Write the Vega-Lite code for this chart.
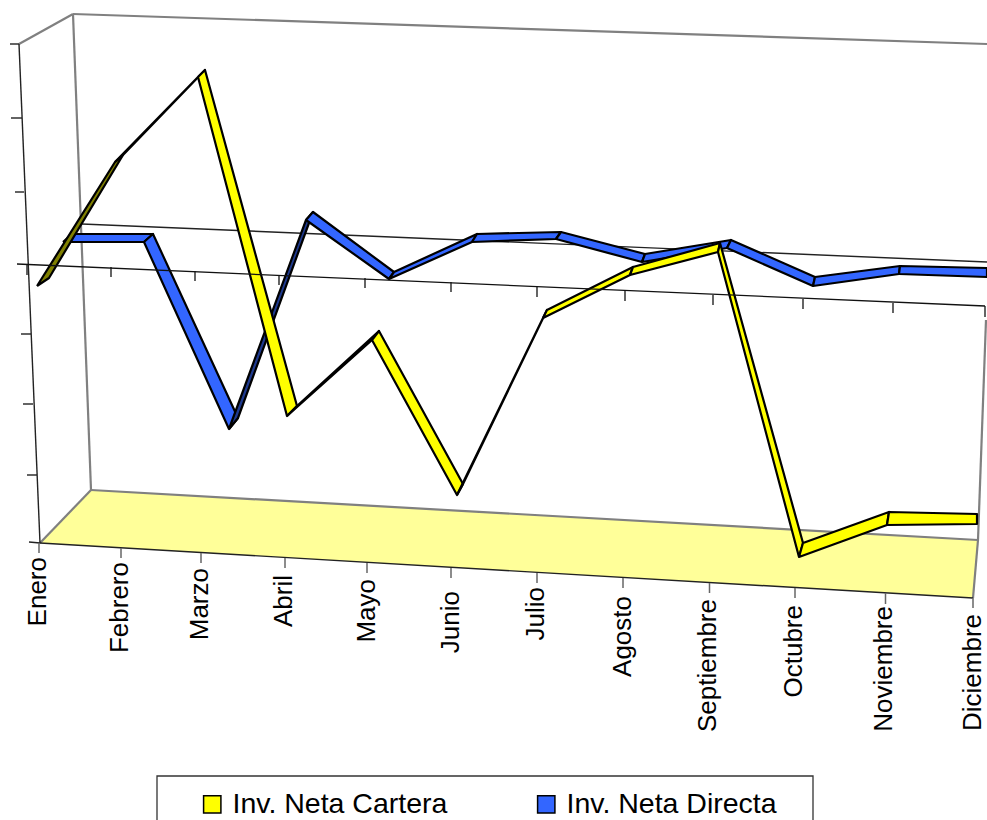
{"$schema":"https://vega.github.io/schema/vega-lite/v6.json","width":987,"height":820,"padding":0,"autosize":{"type":"none"},"background":"white","config":{"view":{"stroke":null},"font":"Liberation Sans"},
"datasets":{
"suelo":[{"x":40,"y":543},{"x":91,"y":490},{"x":978,"y":540},{"x":973,"y":598},{"x":40,"y":543}],
"bordes":[{"x":19,"y":44,"x2":73,"y2":14},{"x":73,"y":14,"x2":987,"y2":44},{"x":73,"y":14,"x2":91,"y2":490},{"x":91,"y":490,"x2":978,"y2":540},{"x":40,"y":543,"x2":91,"y2":490},{"x":986,"y":320,"x2":978,"y2":540},{"x":978,"y":540,"x2":973,"y2":598}],
"ejes":[{"x":19,"y":44,"x2":40,"y2":543},{"x":82,"y":224,"x2":987,"y2":262},{"x":40,"y":543,"x2":973,"y2":598},{"x":10,"y":44,"x2":19,"y2":44},{"x":11,"y":118,"x2":22,"y2":118},{"x":15,"y":192,"x2":24,"y2":192},{"x":21,"y":334,"x2":31,"y2":334},{"x":23,"y":404,"x2":33,"y2":404},{"x":27,"y":475,"x2":37,"y2":475},{"x":29,"y":542,"x2":40,"y2":543}],
"marcas":[{"x":39,"y":543,"x2":39,"y2":553},{"x":121,"y":548,"x2":121,"y2":558},{"x":201,"y":553,"x2":201,"y2":563},{"x":285,"y":558,"x2":285,"y2":568},{"x":367,"y":563,"x2":367,"y2":573},{"x":451,"y":568,"x2":451,"y2":578},{"x":537,"y":573,"x2":537,"y2":583},{"x":623,"y":578,"x2":623,"y2":588},{"x":709.5,"y":583,"x2":709.5,"y2":593},{"x":795,"y":588,"x2":795,"y2":598},{"x":885.5,"y":593,"x2":885.5,"y2":604},{"x":973,"y":598,"x2":973,"y2":608}],
"cero":[{"x":17,"y":264,"x2":985,"y2":306},{"x":27,"y":265,"x2":27,"y2":275},{"x":111,"y":267,"x2":111,"y2":277},{"x":195,"y":271,"x2":195,"y2":281},{"x":279,"y":275,"x2":279,"y2":285},{"x":365,"y":278,"x2":365,"y2":288},{"x":451,"y":282,"x2":451,"y2":292},{"x":537,"y":287,"x2":537,"y2":297},{"x":625,"y":291,"x2":625,"y2":301},{"x":713,"y":295,"x2":713,"y2":305},{"x":803,"y":299,"x2":803,"y2":309},{"x":893,"y":303,"x2":893,"y2":313},{"x":985,"y":306,"x2":985,"y2":317}],
"meses":[{"mes":"Enero","x":38,"y":557},{"mes":"Febrero","x":120,"y":562},{"mes":"Marzo","x":200,"y":568},{"mes":"Abril","x":284,"y":575},{"mes":"Mayo","x":367,"y":579},{"mes":"Junio","x":451,"y":591},{"mes":"Julio","x":536,"y":587},{"mes":"Agosto","x":623,"y":596},{"mes":"Septiembre","x":708,"y":599},{"mes":"Octubre","x":794,"y":605},{"mes":"Noviembre","x":884,"y":606},{"mes":"Diciembre","x":973,"y":614}],
"marco":[{"x":157,"x2":813,"y":776,"y2":840}],
"cintas":[
{"s":"Inv. Neta Directa","t":"D1","o":1,"x":63,"y":242},{"s":"Inv. Neta Directa","t":"D1","o":2,"x":72,"y":234},{"s":"Inv. Neta Directa","t":"D1","o":3,"x":153,"y":234},{"s":"Inv. Neta Directa","t":"D1","o":4,"x":144,"y":242},{"s":"Inv. Neta Directa","t":"D1","o":5,"x":63,"y":242},
{"s":"Inv. Neta Directa","t":"D2","o":1,"x":144,"y":242},{"s":"Inv. Neta Directa","t":"D2","o":2,"x":153,"y":234},{"s":"Inv. Neta Directa","t":"D2","o":3,"x":238,"y":418},{"s":"Inv. Neta Directa","t":"D2","o":4,"x":229,"y":429},{"s":"Inv. Neta Directa","t":"D2","o":5,"x":144,"y":242},
{"s":"Directa inferior","t":"D3","o":1,"x":229,"y":429},{"s":"Directa inferior","t":"D3","o":2,"x":238,"y":418},{"s":"Directa inferior","t":"D3","o":3,"x":313,"y":212},{"s":"Directa inferior","t":"D3","o":4,"x":306,"y":220},{"s":"Directa inferior","t":"D3","o":5,"x":229,"y":429},
{"s":"Inv. Neta Directa","t":"D4","o":1,"x":306,"y":220},{"s":"Inv. Neta Directa","t":"D4","o":2,"x":313,"y":212},{"s":"Inv. Neta Directa","t":"D4","o":3,"x":394,"y":272},{"s":"Inv. Neta Directa","t":"D4","o":4,"x":389,"y":279},{"s":"Inv. Neta Directa","t":"D4","o":5,"x":306,"y":220},
{"s":"Inv. Neta Directa","t":"D5","o":1,"x":389,"y":279},{"s":"Inv. Neta Directa","t":"D5","o":2,"x":394,"y":272},{"s":"Inv. Neta Directa","t":"D5","o":3,"x":477,"y":234},{"s":"Inv. Neta Directa","t":"D5","o":4,"x":472,"y":242},{"s":"Inv. Neta Directa","t":"D5","o":5,"x":389,"y":279},
{"s":"Inv. Neta Directa","t":"D6","o":1,"x":472,"y":242},{"s":"Inv. Neta Directa","t":"D6","o":2,"x":477,"y":234},{"s":"Inv. Neta Directa","t":"D6","o":3,"x":561,"y":232},{"s":"Inv. Neta Directa","t":"D6","o":4,"x":556,"y":239},{"s":"Inv. Neta Directa","t":"D6","o":5,"x":472,"y":242},
{"s":"Inv. Neta Directa","t":"D7","o":1,"x":556,"y":239},{"s":"Inv. Neta Directa","t":"D7","o":2,"x":561,"y":232},{"s":"Inv. Neta Directa","t":"D7","o":3,"x":645,"y":254},{"s":"Inv. Neta Directa","t":"D7","o":4,"x":642,"y":262},{"s":"Inv. Neta Directa","t":"D7","o":5,"x":556,"y":239},
{"s":"Inv. Neta Directa","t":"D8","o":1,"x":642,"y":262},{"s":"Inv. Neta Directa","t":"D8","o":2,"x":645,"y":254},{"s":"Inv. Neta Directa","t":"D8","o":3,"x":731,"y":240},{"s":"Inv. Neta Directa","t":"D8","o":4,"x":727,"y":248},{"s":"Inv. Neta Directa","t":"D8","o":5,"x":642,"y":262},
{"s":"Inv. Neta Directa","t":"D9","o":1,"x":727,"y":248},{"s":"Inv. Neta Directa","t":"D9","o":2,"x":731,"y":240},{"s":"Inv. Neta Directa","t":"D9","o":3,"x":815,"y":277},{"s":"Inv. Neta Directa","t":"D9","o":4,"x":813,"y":286},{"s":"Inv. Neta Directa","t":"D9","o":5,"x":727,"y":248},
{"s":"Inv. Neta Directa","t":"D10","o":1,"x":813,"y":286},{"s":"Inv. Neta Directa","t":"D10","o":2,"x":815,"y":277},{"s":"Inv. Neta Directa","t":"D10","o":3,"x":900,"y":266},{"s":"Inv. Neta Directa","t":"D10","o":4,"x":899,"y":274},{"s":"Inv. Neta Directa","t":"D10","o":5,"x":813,"y":286},
{"s":"Inv. Neta Directa","t":"D11","o":1,"x":899,"y":274},{"s":"Inv. Neta Directa","t":"D11","o":2,"x":900,"y":266},{"s":"Inv. Neta Directa","t":"D11","o":3,"x":987,"y":268},{"s":"Inv. Neta Directa","t":"D11","o":4,"x":987,"y":277},{"s":"Inv. Neta Directa","t":"D11","o":5,"x":899,"y":274},
{"s":"Cartera inferior","t":"C1","o":1,"x":37,"y":286},{"s":"Cartera inferior","t":"C1","o":2,"x":49,"y":278},{"s":"Cartera inferior","t":"C1","o":3,"x":123,"y":155},{"s":"Cartera inferior","t":"C1","o":4,"x":115,"y":162},{"s":"Cartera inferior","t":"C1","o":5,"x":37,"y":286},
{"s":"Cartera inferior","t":"C2","o":1,"x":115,"y":162},{"s":"Cartera inferior","t":"C2","o":2,"x":123,"y":155},{"s":"Cartera inferior","t":"C2","o":3,"x":205,"y":70},{"s":"Cartera inferior","t":"C2","o":4,"x":198,"y":77},{"s":"Cartera inferior","t":"C2","o":5,"x":115,"y":162},
{"s":"Inv. Neta Cartera","t":"C3","o":1,"x":198,"y":77},{"s":"Inv. Neta Cartera","t":"C3","o":2,"x":205,"y":70},{"s":"Inv. Neta Cartera","t":"C3","o":3,"x":297,"y":406},{"s":"Inv. Neta Cartera","t":"C3","o":4,"x":287,"y":416},{"s":"Inv. Neta Cartera","t":"C3","o":5,"x":198,"y":77},
{"s":"Cartera inferior","t":"C4","o":1,"x":287,"y":416},{"s":"Cartera inferior","t":"C4","o":2,"x":297,"y":406},{"s":"Cartera inferior","t":"C4","o":3,"x":379,"y":331},{"s":"Cartera inferior","t":"C4","o":4,"x":372,"y":340},{"s":"Cartera inferior","t":"C4","o":5,"x":287,"y":416},
{"s":"Inv. Neta Cartera","t":"C5","o":1,"x":372,"y":340},{"s":"Inv. Neta Cartera","t":"C5","o":2,"x":379,"y":331},{"s":"Inv. Neta Cartera","t":"C5","o":3,"x":463,"y":484},{"s":"Inv. Neta Cartera","t":"C5","o":4,"x":457,"y":495},{"s":"Inv. Neta Cartera","t":"C5","o":5,"x":372,"y":340},
{"s":"Cartera inferior","t":"C6","o":1,"x":457,"y":495},{"s":"Cartera inferior","t":"C6","o":2,"x":463,"y":484},{"s":"Cartera inferior","t":"C6","o":3,"x":547,"y":310},{"s":"Cartera inferior","t":"C6","o":4,"x":543,"y":318},{"s":"Cartera inferior","t":"C6","o":5,"x":457,"y":495},
{"s":"Inv. Neta Cartera","t":"C7","o":1,"x":543,"y":318},{"s":"Inv. Neta Cartera","t":"C7","o":2,"x":547,"y":310},{"s":"Inv. Neta Cartera","t":"C7","o":3,"x":633,"y":267},{"s":"Inv. Neta Cartera","t":"C7","o":4,"x":630,"y":275},{"s":"Inv. Neta Cartera","t":"C7","o":5,"x":543,"y":318},
{"s":"Inv. Neta Cartera","t":"C8","o":1,"x":630,"y":275},{"s":"Inv. Neta Cartera","t":"C8","o":2,"x":633,"y":267},{"s":"Inv. Neta Cartera","t":"C8","o":3,"x":720,"y":243},{"s":"Inv. Neta Cartera","t":"C8","o":4,"x":718,"y":252},{"s":"Inv. Neta Cartera","t":"C8","o":5,"x":630,"y":275},
{"s":"Inv. Neta Cartera","t":"C9","o":1,"x":718,"y":252},{"s":"Inv. Neta Cartera","t":"C9","o":2,"x":720,"y":243},{"s":"Inv. Neta Cartera","t":"C9","o":3,"x":803,"y":543},{"s":"Inv. Neta Cartera","t":"C9","o":4,"x":799,"y":557},{"s":"Inv. Neta Cartera","t":"C9","o":5,"x":718,"y":252},
{"s":"Inv. Neta Cartera","t":"C10","o":1,"x":799,"y":557},{"s":"Inv. Neta Cartera","t":"C10","o":2,"x":803,"y":543},{"s":"Inv. Neta Cartera","t":"C10","o":3,"x":889,"y":512},{"s":"Inv. Neta Cartera","t":"C10","o":4,"x":887,"y":525},{"s":"Inv. Neta Cartera","t":"C10","o":5,"x":799,"y":557},
{"s":"Inv. Neta Cartera","t":"C11","o":1,"x":887,"y":525},{"s":"Inv. Neta Cartera","t":"C11","o":2,"x":889,"y":512},{"s":"Inv. Neta Cartera","t":"C11","o":3,"x":977,"y":514},{"s":"Inv. Neta Cartera","t":"C11","o":4,"x":977,"y":524},{"s":"Inv. Neta Cartera","t":"C11","o":5,"x":887,"y":525}
]},
"encoding":{"x":{"field":"x","type":"quantitative","scale":{"domain":[0,987],"nice":false,"zero":false},"axis":null},"y":{"field":"y","type":"quantitative","scale":{"domain":[0,820],"nice":false,"zero":false,"reverse":true},"axis":null}},
"layer":[
{"data":{"name":"suelo"},"mark":{"type":"line","filled":true,"fill":"#FFFF99","stroke":null,"clip":false},"encoding":{"order":{"value":null}}},
{"data":{"name":"bordes"},"mark":{"type":"rule","stroke":"#808080","strokeWidth":2.2},"encoding":{"x2":{"field":"x2"},"y2":{"field":"y2"}}},
{"data":{"name":"ejes"},"mark":{"type":"rule","stroke":"#222222","strokeWidth":1.4},"encoding":{"x2":{"field":"x2"},"y2":{"field":"y2"}}},
{"data":{"name":"marcas"},"mark":{"type":"rule","stroke":"#666666","strokeWidth":1.5},"encoding":{"x2":{"field":"x2"},"y2":{"field":"y2"}}},
{"data":{"name":"cintas"},"mark":{"type":"line","filled":true,"stroke":"black","strokeWidth":2.2,"strokeJoin":"round"},"encoding":{"detail":{"field":"t"},"order":{"field":"o"},"fill":{"field":"s","type":"nominal","scale":{"domain":["Inv. Neta Cartera","Inv. Neta Directa","Cartera inferior","Directa inferior"],"range":["#FFFF00","#3366FF","#808000","#1F3A8F"]},"legend":{"title":null,"values":["Inv. Neta Cartera","Inv. Neta Directa"],"orient":"none","legendX":198,"legendY":790,"direction":"horizontal","columns":2,"symbolType":"square","symbolSize":300,"symbolStrokeColor":"black","symbolStrokeWidth":1.5,"labelFontSize":28.5,"labelFont":"Liberation Sans","labelColor":"black","labelOffset":6,"columnPadding":84,"padding":0,"labelLimit":400}}}},
{"data":{"name":"cero"},"mark":{"type":"rule","stroke":"#111111","strokeWidth":1.3},"encoding":{"x2":{"field":"x2"},"y2":{"field":"y2"}}},
{"data":{"name":"meses"},"mark":{"type":"text","angle":270,"align":"right","baseline":"middle","fontSize":26,"font":"Liberation Sans","color":"black"},"encoding":{"text":{"field":"mes"}}},
{"data":{"name":"marco"},"mark":{"type":"rect","fill":null,"stroke":"#333333","strokeWidth":1.3},"encoding":{"x2":{"field":"x2"},"y2":{"field":"y2"}}}
]}
